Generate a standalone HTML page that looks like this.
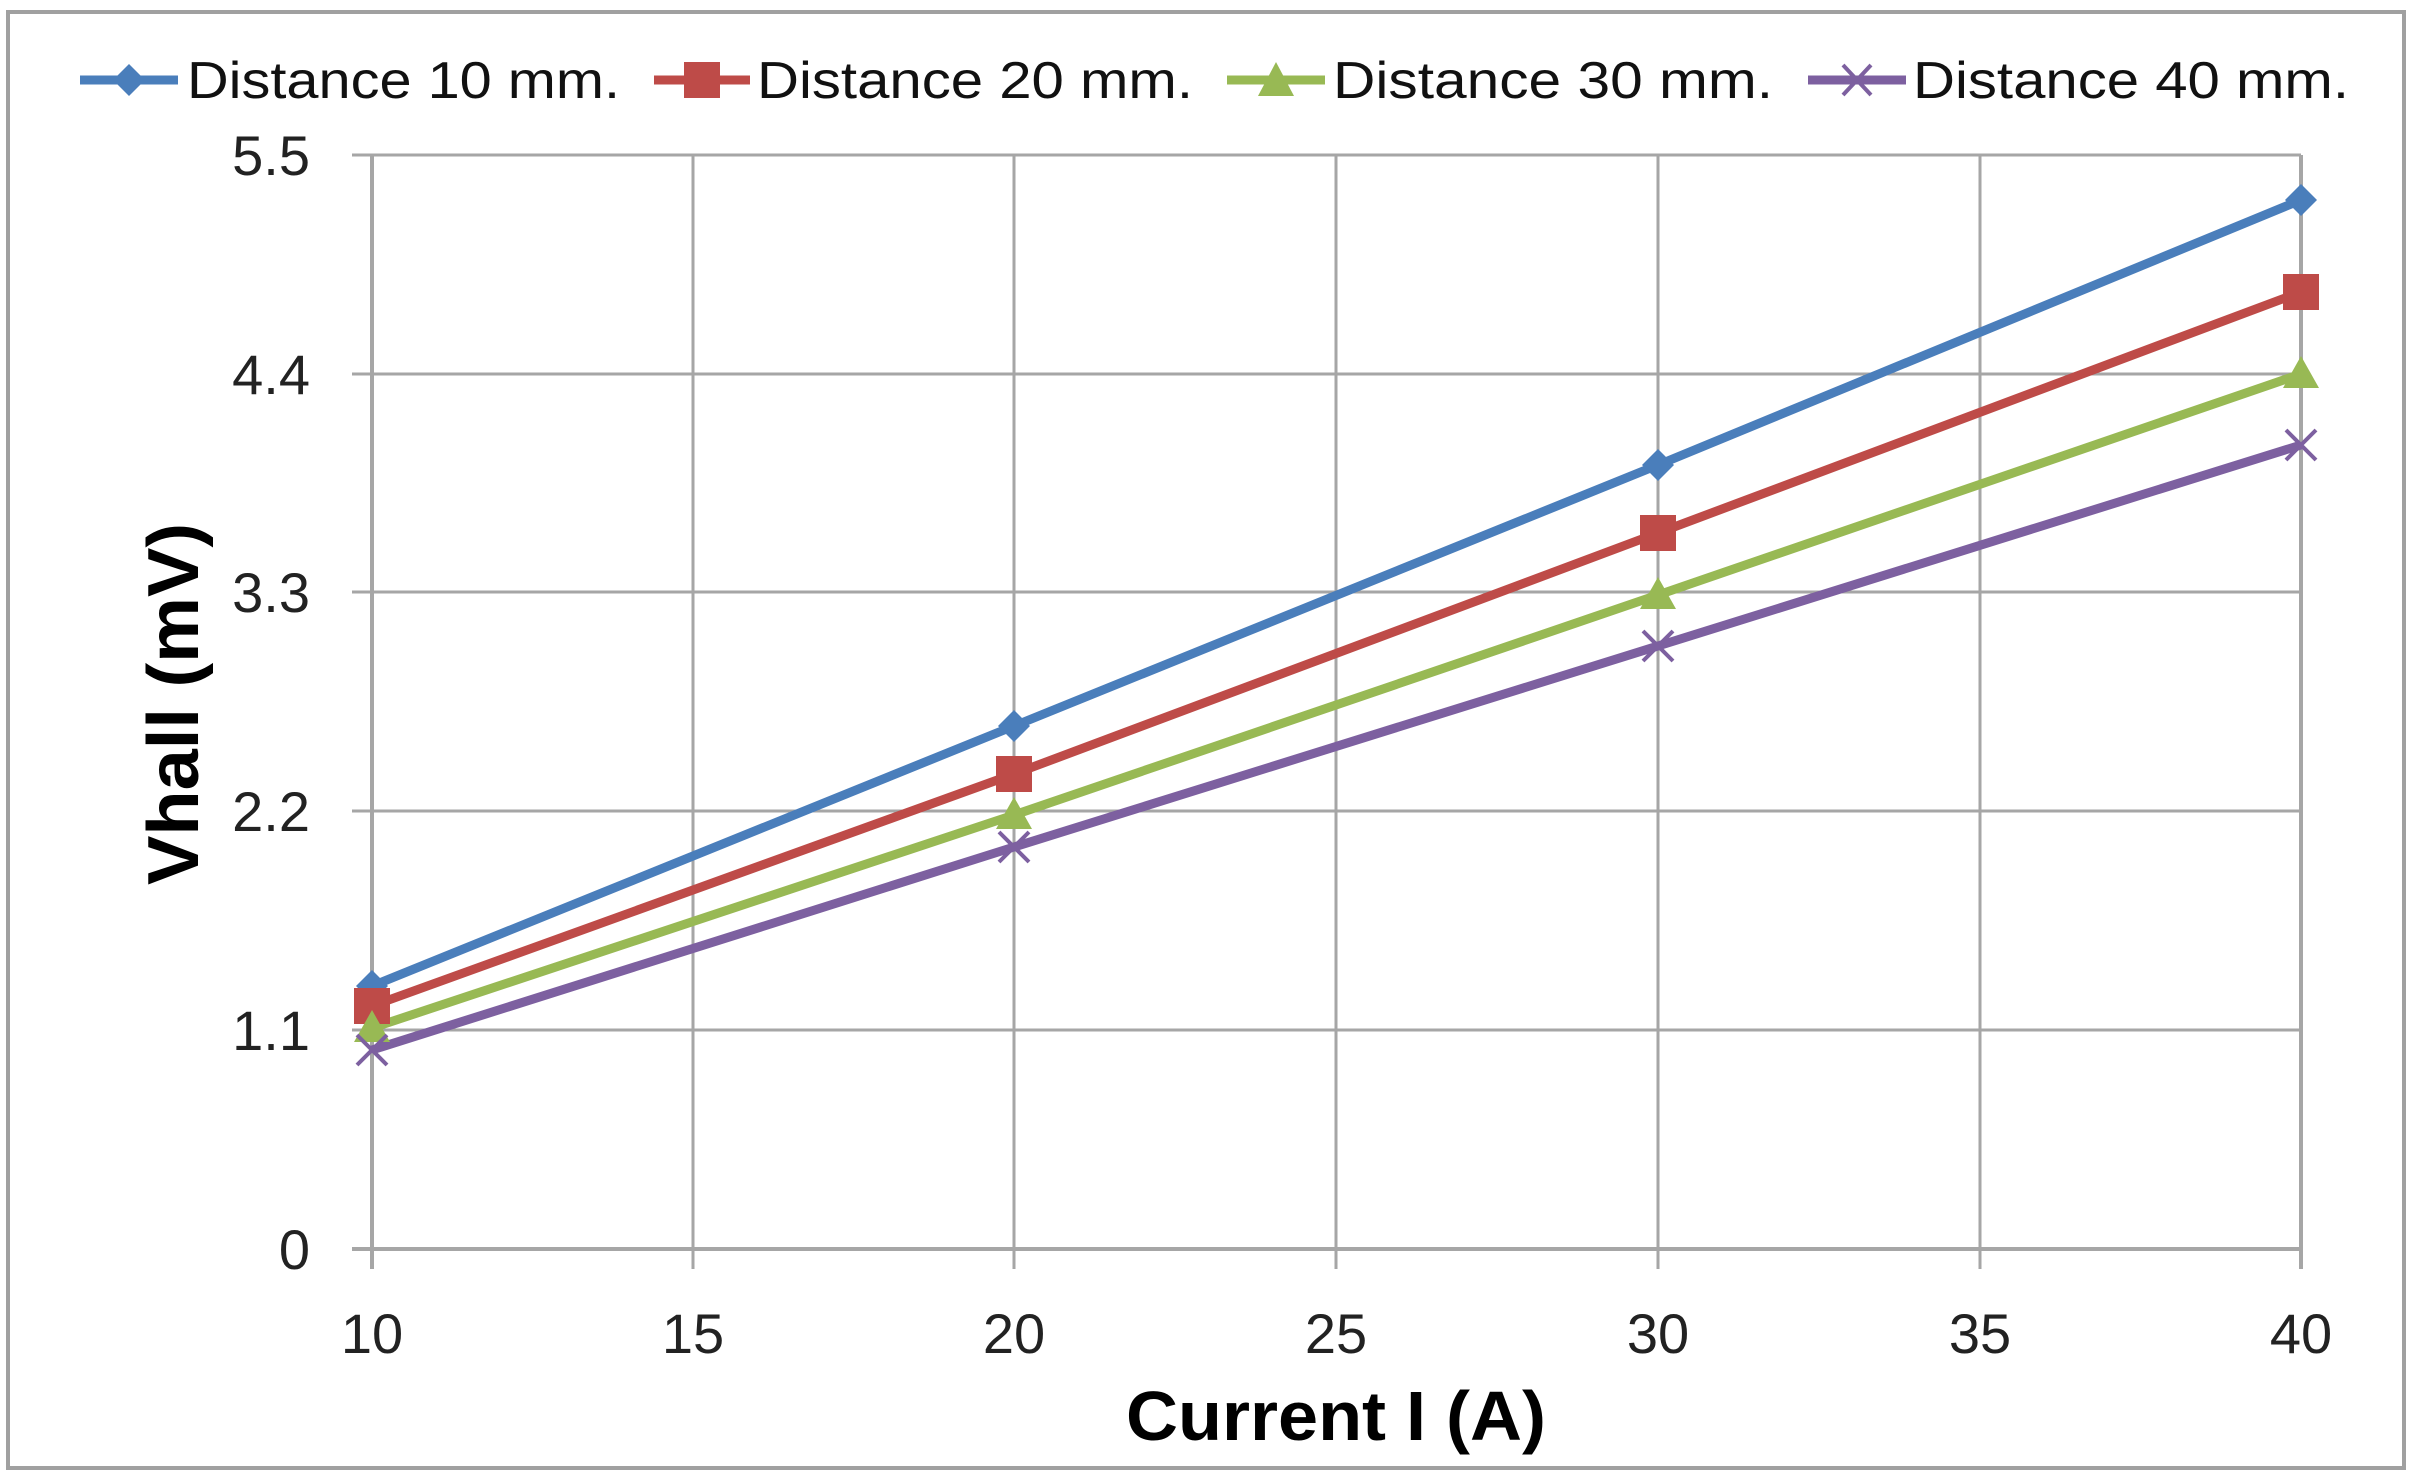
<!DOCTYPE html>
<html><head><meta charset="utf-8"><style>html,body{margin:0;padding:0;background:#fff}svg{display:block}</style></head>
<body>
<svg width="2418" height="1481" viewBox="0 0 2418 1481" xmlns="http://www.w3.org/2000/svg" font-family="Liberation Sans, sans-serif">
<rect x="0" y="0" width="2418" height="1481" fill="#fff"/>
<rect x="8" y="12" width="2396" height="1456" fill="none" stroke="#a0a0a0" stroke-width="4"/>
<g stroke="#a6a6a6" stroke-width="3">
<line x1="352" y1="155" x2="2301" y2="155"/>
<line x1="352" y1="374" x2="2301" y2="374"/>
<line x1="352" y1="592" x2="2301" y2="592"/>
<line x1="352" y1="811" x2="2301" y2="811"/>
<line x1="352" y1="1030" x2="2301" y2="1030"/>
<line x1="352" y1="1249" x2="2301" y2="1249" stroke-width="4"/>
<line x1="372" y1="155" x2="372" y2="1269" stroke-width="4"/>
<line x1="693" y1="155" x2="693" y2="1269"/>
<line x1="1014" y1="155" x2="1014" y2="1269"/>
<line x1="1336" y1="155" x2="1336" y2="1269"/>
<line x1="1658" y1="155" x2="1658" y2="1269"/>
<line x1="1980" y1="155" x2="1980" y2="1269"/>
<line x1="2301" y1="155" x2="2301" y2="1269" stroke-width="4"/>
</g>
<g font-size="56" fill="#222" text-anchor="end">
<text x="310" y="175">5.5</text>
<text x="310" y="394">4.4</text>
<text x="310" y="612">3.3</text>
<text x="310" y="831">2.2</text>
<text x="310" y="1050">1.1</text>
<text x="310" y="1269">0</text>
</g>
<g font-size="56" fill="#222" text-anchor="middle">
<text x="372" y="1353">10</text>
<text x="693" y="1353">15</text>
<text x="1014" y="1353">20</text>
<text x="1336" y="1353">25</text>
<text x="1658" y="1353">30</text>
<text x="1980" y="1353">35</text>
<text x="2301" y="1353">40</text>
</g>
<text x="1336" y="1440" font-size="70" font-weight="bold" text-anchor="middle" textLength="420" lengthAdjust="spacingAndGlyphs">Current I (A)</text>
<text transform="translate(198,704) rotate(-90)" font-size="72" font-weight="bold" text-anchor="middle" textLength="362" lengthAdjust="spacingAndGlyphs">Vhall (mV)</text>
<g fill="none" stroke-width="9" stroke-linejoin="round">
<polyline stroke="#4a7ebb" points="372,986 1014,726 1658,465 2301,200"/>
<polyline stroke="#be4b48" points="372,1006 1014,774 1658,533 2301,292"/>
<polyline stroke="#98b954" points="372,1028 1014,815 1658,595 2301,374"/>
<polyline stroke="#7d60a0" points="372,1050 1014,847 1658,646 2301,445"/>
</g>
<g fill="#4a7ebb">
<polygon points="372,970 388,986 372,1002 356,986"/>
<polygon points="1014,710 1030,726 1014,742 998,726"/>
<polygon points="1658,449 1674,465 1658,481 1642,465"/>
<polygon points="2301,184 2317,200 2301,216 2285,200"/>
</g>
<g fill="#be4b48">
<rect x="354" y="988" width="36" height="36"/>
<rect x="996" y="756" width="36" height="36"/>
<rect x="1640" y="515" width="36" height="36"/>
<rect x="2283" y="274" width="36" height="36"/>
</g>
<g fill="#98b954">
<polygon points="372,1010 390,1042 354,1042"/>
<polygon points="1014,797 1032,829 996,829"/>
<polygon points="1658,577 1676,609 1640,609"/>
<polygon points="2301,356 2319,388 2283,388"/>
</g>
<g stroke="#7d60a0" stroke-width="4">
<path d="M357,1035 L387,1065 M387,1035 L357,1065"/>
<path d="M999,832 L1029,862 M1029,832 L999,862"/>
<path d="M1643,631 L1673,661 M1673,631 L1643,661"/>
<path d="M2286,430 L2316,460 M2316,430 L2286,460"/>
</g>
<g font-size="52" fill="#111">
<line x1="80" y1="80" x2="178" y2="80" stroke="#4a7ebb" stroke-width="9"/>
<polygon points="129,64 145,80 129,96 113,80" fill="#4a7ebb"/>
<text x="187" y="98" textLength="433" lengthAdjust="spacingAndGlyphs">Distance 10 mm.</text>
<line x1="654" y1="80" x2="750" y2="80" stroke="#be4b48" stroke-width="9"/>
<rect x="684" y="62" width="36" height="36" fill="#be4b48"/>
<text x="757" y="98" textLength="436" lengthAdjust="spacingAndGlyphs">Distance 20 mm.</text>
<line x1="1227" y1="80" x2="1325" y2="80" stroke="#98b954" stroke-width="9"/>
<polygon points="1276,62 1294,96 1258,96" fill="#98b954"/>
<text x="1333" y="98" textLength="440" lengthAdjust="spacingAndGlyphs">Distance 30 mm.</text>
<line x1="1808" y1="80" x2="1906" y2="80" stroke="#7d60a0" stroke-width="9"/>
<path d="M1843,65 L1871,95 M1871,65 L1843,95" stroke="#7d60a0" stroke-width="4"/>
<text x="1913" y="98" textLength="436" lengthAdjust="spacingAndGlyphs">Distance 40 mm.</text>
</g>
</svg>
</body></html>
